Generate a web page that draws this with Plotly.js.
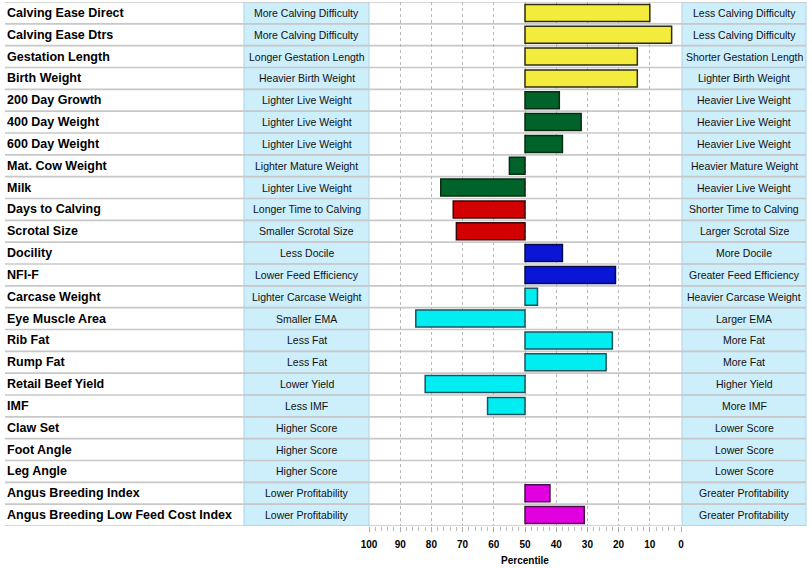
<!DOCTYPE html>
<html>
<head>
<meta charset="utf-8">
<script src="https://cdn.plot.ly/plotly-3.0.1.min.js"></script>
<style>html,body{margin:0;padding:0;background:#fff;}#chart{width:812px;height:568px;}</style>
</head>
<body>
<div id="chart"></div>
<script>
// ---- data ----
var traits = ["Calving Ease Direct","Calving Ease Dtrs","Gestation Length","Birth Weight","200 Day Growth","400 Day Weight","600 Day Weight","Mat. Cow Weight","Milk","Days to Calving","Scrotal Size","Docility","NFI-F","Carcase Weight","Eye Muscle Area","Rib Fat","Rump Fat","Retail Beef Yield","IMF","Claw Set","Foot Angle","Leg Angle","Angus Breeding Index","Angus Breeding Low Feed Cost Index"];
var leftLabels = ["More Calving Difficulty","More Calving Difficulty","Longer Gestation Length","Heavier Birth Weight","Lighter Live Weight","Lighter Live Weight","Lighter Live Weight","Lighter Mature Weight","Lighter Live Weight","Longer Time to Calving","Smaller Scrotal Size","Less Docile","Lower Feed Efficiency","Lighter Carcase Weight","Smaller EMA","Less Fat","Less Fat","Lower Yield","Less IMF","Higher Score","Higher Score","Higher Score","Lower Profitability","Lower Profitability"];
var rightLabels = ["Less Calving Difficulty","Less Calving Difficulty","Shorter Gestation Length","Lighter Birth Weight","Heavier Live Weight","Heavier Live Weight","Heavier Live Weight","Heavier Mature Weight","Heavier Live Weight","Shorter Time to Calving","Larger Scrotal Size","More Docile","Greater Feed Efficiency","Heavier Carcase Weight","Larger EMA","More Fat","More Fat","Higher Yield","More IMF","Lower Score","Lower Score","Lower Score","Greater Profitability","Greater Profitability"];
var percentiles = [10,3,14,14,39,32,38,55,77,73,72,38,21,46,85,22,24,82,62,null,null,null,42,31];
var groups = ["calving","calving","calving","calving","growth","growth","growth","growth","growth","fertility","fertility","temperament","feed","carcase","carcase","carcase","carcase","carcase","carcase","structure","structure","structure","index","index"];
var midpoint = 50;
var tickVals = [100,90,80,70,60,50,40,30,20,10,0];

// ---- styles ----
var groupFill = {calving:"#f4ec3c",growth:"#00642a",fertility:"#d20000",temperament:"#0a16d6",feed:"#0a16d6",carcase:"#00eef2",structure:"#cccccc",index:"#e000e0"};
var groupLine = {calving:"#2e2c10",growth:"#0b2a12",fertility:"#3a0808",temperament:"#0a0a40",feed:"#0a0a40",carcase:"#1a5560",structure:"#333",index:"#4a0f4a"};

var W = 812, H = 568;
var L = 369, R = 681, T = 2, B = 526;
function px(p){ return (p - L) / (R - L); }

var n = traits.length;
var yIdx = traits.map(function(_, i){ return i; });
var barLen = percentiles.map(function(v){ return v === null ? null : v - midpoint; });

var trace = {
  type: "bar",
  orientation: "h",
  y: yIdx,
  x: barLen,
  base: midpoint,
  width: 0.78,
  marker: {
    color: groups.map(function(g){ return groupFill[g]; }),
    line: {color: groups.map(function(g){ return groupLine[g]; }), width: 1.5}
  },
  hoverinfo: "skip",
  showlegend: false
};

var shapes = [];
var annotations = [];
var font = "Arial, 'Liberation Sans', sans-serif";

for (var i = 0; i < n; i++) {
  shapes.push({type:"rect", xref:"paper", yref:"y", x0:px(244), x1:px(369), y0:i-0.5, y1:i+0.5,
    fillcolor:"#cdeefb", line:{color:"#b0d2e2", width:1}, layer:"below"});
  shapes.push({type:"rect", xref:"paper", yref:"y", x0:px(682), x1:px(806), y0:i-0.5, y1:i+0.5,
    fillcolor:"#cdeefb", line:{color:"#b0d2e2", width:1}, layer:"below"});
  annotations.push({xref:"paper", yref:"y", x:px(5), y:i, xanchor:"left", yanchor:"middle", showarrow:false,
    text:traits[i], font:{family:font, size:12.5, color:"#000", weight:"bold"}});
  annotations.push({xref:"paper", yref:"y", x:px(306.5), y:i, xanchor:"center", yanchor:"middle", showarrow:false,
    text:leftLabels[i], font:{family:font, size:10.5, color:"#111"}});
  annotations.push({xref:"paper", yref:"y", x:px(744), y:i, xanchor:"center", yanchor:"middle", showarrow:false,
    text:rightLabels[i], font:{family:font, size:10.5, color:"#111"}});
}
for (var k = -1; k < n; k++) {
  shapes.push({type:"line", xref:"paper", yref:"y", x0:px(5), x1:px(806), y0:k+0.5, y1:k+0.5,
    line:{color:"#c8c8c8", width:1.6}, layer:"below"});
}

var layout = {
  width: W, height: H,
  margin: {l: L, r: W - R, t: T, b: H - B, pad: 0},
  paper_bgcolor: "#fff", plot_bgcolor: "#fff",
  bargap: 0.2,
  xaxis: {
    range: [100, 0], fixedrange: true,
    tickvals: tickVals, ticktext: tickVals.map(String),
    ticks: "outside", ticklen: 5, tickcolor: "#aaa", tickwidth: 1,
    ticklabelstandoff: 4,
    minor: {dtick: 2, ticks: "outside", ticklen: 4, tickcolor: "#bbb", showgrid: false},
    showgrid: true, gridcolor: "#b8b8b8", griddash: "3px,3px", gridwidth: 1,
    zeroline: false, showline: false,
    tickfont: {family: font, size: 10, color: "#000", weight: "bold"},
    title: {text: "Percentile", font: {family: font, size: 10, color: "#000", weight: "bold"}, standoff: 7}
  },
  yaxis: {
    range: [n - 0.5, -0.5], fixedrange: true,
    showticklabels: false, showgrid: false, zeroline: false, ticks: ""
  },
  shapes: shapes,
  annotations: annotations
};

Plotly.newPlot("chart", [trace], layout, {displayModeBar: false, staticPlot: true});
</script>
</body>
</html>
